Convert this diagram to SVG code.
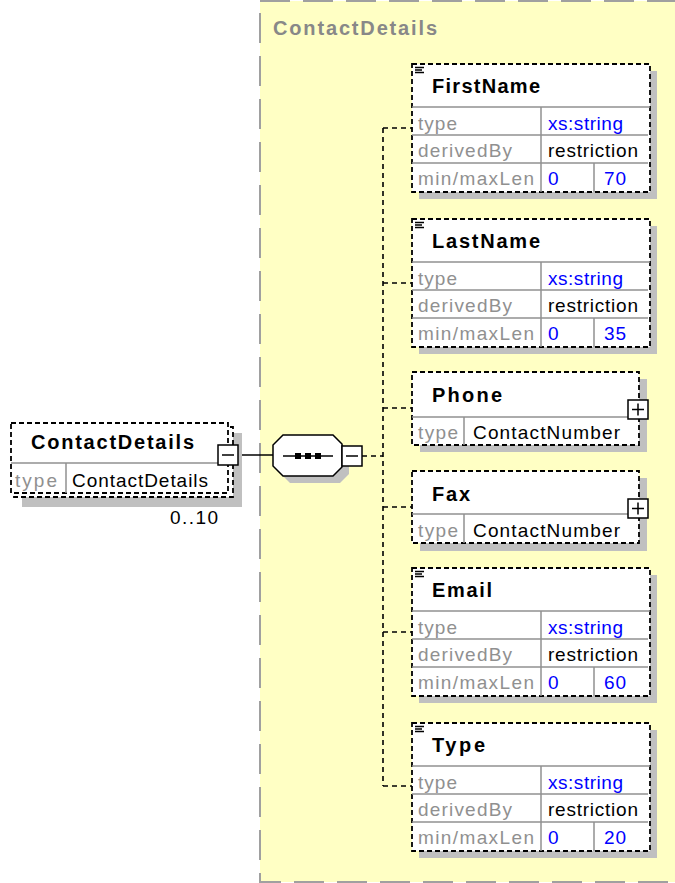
<svg xmlns="http://www.w3.org/2000/svg" width="675" height="883" viewBox="0 0 675 883">
<defs>
<style>
text{font-family:"Liberation Sans",Arial,sans-serif;}
.bold{font-weight:bold;font-size:20px;fill:#000;}
.lbl{font-size:19px;fill:#909090;}
.val{font-size:19px;fill:#000;}
.blue{font-size:19px;fill:#0000ff;}
.box{fill:#fff;stroke:#000;stroke-width:1.8;stroke-dasharray:5 3;}
.shadow{fill:#c0c0c0;stroke:none;}
.sep{stroke:#909090;stroke-width:1.5;fill:none;}
.icon{fill:#fff;stroke:#000;stroke-width:1.5;}
.dash{stroke:#000;stroke-width:1.6;stroke-dasharray:5 4;fill:none;}
.solid{stroke:#000;stroke-width:1.5;fill:none;}
</style>
</defs>
<rect x="0" y="0" width="675" height="883" fill="#fff"/>
<g id="group-ContactDetails">
<rect x="260" y="1" width="430" height="881" fill="#ffffc4" stroke="#a0a0a0" stroke-width="2" stroke-dasharray="30 13"/>
<text x="273" y="35" font-size="20" font-weight="bold" fill="#888" textLength="164" lengthAdjust="spacing">ContactDetails</text>
</g>
<g id="connectors">
<line class="solid" x1="238" y1="455" x2="273" y2="455"/>
<line class="dash" x1="362" y1="456" x2="383" y2="456"/>
<line class="dash" x1="383" y1="128" x2="383" y2="786"/>
<line class="dash" x1="383" y1="128" x2="412" y2="128"/>
<line class="dash" x1="383" y1="283" x2="412" y2="283"/>
<line class="dash" x1="383" y1="408" x2="412" y2="408"/>
<line class="dash" x1="383" y1="507" x2="412" y2="507"/>
<line class="dash" x1="383" y1="632" x2="412" y2="632"/>
<line class="dash" x1="383" y1="786" x2="412" y2="786"/>
</g>
<g id="node-root">
<rect class="shadow" x="22" y="433" width="220" height="74"/>
<rect class="box" x="14" y="427" width="219" height="70"/>
<rect class="box" x="11" y="423" width="217" height="70"/>
<line class="sep" x1="11" y1="463" x2="228" y2="463"/>
<line class="sep" x1="66" y1="463" x2="66" y2="493"/>
<text class="bold" x="31" y="449" textLength="163" lengthAdjust="spacing">ContactDetails</text>
<text class="lbl" x="15" y="487" textLength="42" lengthAdjust="spacing">type</text>
<text class="val" x="72" y="487" textLength="136" lengthAdjust="spacing">ContactDetails</text>
<rect class="icon" x="218" y="445" width="20" height="20"/>
<line class="solid" x1="222" y1="455" x2="234" y2="455"/>
<text class="val" x="170" y="524" textLength="48" lengthAdjust="spacing">0..10</text>
</g>
<g id="node-sequence">
<polygon class="shadow" points="290,442 340,442 349,451 349,474 340,483 290,483 280,473 280,452"/>
<polygon fill="#fff" stroke="#000" stroke-width="1.5" points="283,435 333,435 342,444 342,467 333,476 283,476 273,466 273,445"/>
<line class="solid" x1="283" y1="456" x2="333" y2="456"/>
<rect x="295" y="453" width="6" height="6" fill="#000"/>
<rect x="305" y="453" width="6" height="6" fill="#000"/>
<rect x="315" y="453" width="6" height="6" fill="#000"/>
<rect class="icon" x="342" y="446" width="20" height="20"/>
<line class="solid" x1="346" y1="456" x2="358" y2="456"/>
</g>
<g id="node-FirstName" transform="translate(412,64)">
<rect class="shadow" x="7" y="7" width="238" height="128"/>
<rect class="box" x="0" y="0" width="238" height="128"/>
<path class="solid" d="M3,3.5h9M3,6h7M3,8.5h9" stroke-width="1"/>
<line class="sep" x1="0" y1="43" x2="238" y2="43"/>
<line class="sep" x1="0" y1="71" x2="236" y2="71"/>
<line class="sep" x1="0" y1="99" x2="236" y2="99"/>
<line class="sep" x1="129" y1="43" x2="129" y2="128"/>
<line class="sep" x1="182" y1="99" x2="182" y2="128"/>
<text class="bold" x="20" y="29" textLength="108" lengthAdjust="spacing">FirstName</text>
<text class="lbl" x="6" y="66" textLength="39" lengthAdjust="spacing">type</text>
<text class="blue" x="136" y="66" textLength="75" lengthAdjust="spacing">xs:string</text>
<text class="lbl" x="6" y="93" textLength="94" lengthAdjust="spacing">derivedBy</text>
<text class="val" x="136" y="93" textLength="90" lengthAdjust="spacing">restriction</text>
<text class="lbl" x="6" y="121" textLength="116" lengthAdjust="spacing">min/maxLen</text>
<text class="blue" x="136" y="121">0</text>
<text class="blue" x="192" y="121" textLength="22" lengthAdjust="spacing">70</text>
</g>
<g id="node-LastName" transform="translate(412,219)">
<rect class="shadow" x="7" y="7" width="238" height="128"/>
<rect class="box" x="0" y="0" width="238" height="128"/>
<path class="solid" d="M3,3.5h9M3,6h7M3,8.5h9" stroke-width="1"/>
<line class="sep" x1="0" y1="43" x2="238" y2="43"/>
<line class="sep" x1="0" y1="71" x2="236" y2="71"/>
<line class="sep" x1="0" y1="99" x2="236" y2="99"/>
<line class="sep" x1="129" y1="43" x2="129" y2="128"/>
<line class="sep" x1="182" y1="99" x2="182" y2="128"/>
<text class="bold" x="20" y="29" textLength="108" lengthAdjust="spacing">LastName</text>
<text class="lbl" x="6" y="66" textLength="39" lengthAdjust="spacing">type</text>
<text class="blue" x="136" y="66" textLength="75" lengthAdjust="spacing">xs:string</text>
<text class="lbl" x="6" y="93" textLength="94" lengthAdjust="spacing">derivedBy</text>
<text class="val" x="136" y="93" textLength="90" lengthAdjust="spacing">restriction</text>
<text class="lbl" x="6" y="121" textLength="116" lengthAdjust="spacing">min/maxLen</text>
<text class="blue" x="136" y="121">0</text>
<text class="blue" x="192" y="121" textLength="22" lengthAdjust="spacing">35</text>
</g>
<g id="node-Phone" transform="translate(412,372)">
<rect class="shadow" x="8" y="7" width="227" height="73"/>
<rect class="box" x="0" y="0" width="227" height="73"/>
<line class="sep" x1="0" y1="45" x2="227" y2="45"/>
<line class="sep" x1="52" y1="45" x2="52" y2="73"/>
<text class="bold" x="20" y="30" textLength="70" lengthAdjust="spacing">Phone</text>
<text class="lbl" x="6" y="67" textLength="40" lengthAdjust="spacing">type</text>
<text class="val" x="61" y="67" textLength="147" lengthAdjust="spacing">ContactNumber</text>
<rect class="icon" x="216" y="28" width="20" height="19"/>
<path class="solid" d="M220,37.5h12M226,31.5v12"/>
</g>
<g id="node-Fax" transform="translate(412,471)">
<rect class="shadow" x="8" y="7" width="227" height="73"/>
<rect class="box" x="0" y="0" width="227" height="72"/>
<line class="sep" x1="0" y1="43" x2="227" y2="43"/>
<line class="sep" x1="52" y1="43" x2="52" y2="72"/>
<text class="bold" x="20" y="30" textLength="38" lengthAdjust="spacing">Fax</text>
<text class="lbl" x="6" y="66" textLength="40" lengthAdjust="spacing">type</text>
<text class="val" x="61" y="66" textLength="147" lengthAdjust="spacing">ContactNumber</text>
<rect class="icon" x="216" y="28" width="20" height="19"/>
<path class="solid" d="M220,37.5h12M226,31.5v12"/>
</g>
<g id="node-Email" transform="translate(412,568)">
<rect class="shadow" x="7" y="7" width="238" height="128"/>
<rect class="box" x="0" y="0" width="238" height="128"/>
<path class="solid" d="M3,3.5h9M3,6h7M3,8.5h9" stroke-width="1"/>
<line class="sep" x1="0" y1="43" x2="238" y2="43"/>
<line class="sep" x1="0" y1="71" x2="236" y2="71"/>
<line class="sep" x1="0" y1="99" x2="236" y2="99"/>
<line class="sep" x1="129" y1="43" x2="129" y2="128"/>
<line class="sep" x1="182" y1="99" x2="182" y2="128"/>
<text class="bold" x="20" y="29" textLength="60" lengthAdjust="spacing">Email</text>
<text class="lbl" x="6" y="66" textLength="39" lengthAdjust="spacing">type</text>
<text class="blue" x="136" y="66" textLength="75" lengthAdjust="spacing">xs:string</text>
<text class="lbl" x="6" y="93" textLength="94" lengthAdjust="spacing">derivedBy</text>
<text class="val" x="136" y="93" textLength="90" lengthAdjust="spacing">restriction</text>
<text class="lbl" x="6" y="121" textLength="116" lengthAdjust="spacing">min/maxLen</text>
<text class="blue" x="136" y="121">0</text>
<text class="blue" x="192" y="121" textLength="22" lengthAdjust="spacing">60</text>
</g>
<g id="node-Type" transform="translate(412,723)">
<rect class="shadow" x="7" y="7" width="238" height="128"/>
<rect class="box" x="0" y="0" width="238" height="128"/>
<path class="solid" d="M3,3.5h9M3,6h7M3,8.5h9" stroke-width="1"/>
<line class="sep" x1="0" y1="43" x2="238" y2="43"/>
<line class="sep" x1="0" y1="71" x2="236" y2="71"/>
<line class="sep" x1="0" y1="99" x2="236" y2="99"/>
<line class="sep" x1="129" y1="43" x2="129" y2="128"/>
<line class="sep" x1="182" y1="99" x2="182" y2="128"/>
<text class="bold" x="20" y="29" textLength="53" lengthAdjust="spacing">Type</text>
<text class="lbl" x="6" y="66" textLength="39" lengthAdjust="spacing">type</text>
<text class="blue" x="136" y="66" textLength="75" lengthAdjust="spacing">xs:string</text>
<text class="lbl" x="6" y="93" textLength="94" lengthAdjust="spacing">derivedBy</text>
<text class="val" x="136" y="93" textLength="90" lengthAdjust="spacing">restriction</text>
<text class="lbl" x="6" y="121" textLength="116" lengthAdjust="spacing">min/maxLen</text>
<text class="blue" x="136" y="121">0</text>
<text class="blue" x="192" y="121" textLength="22" lengthAdjust="spacing">20</text>
</g>
</svg>
